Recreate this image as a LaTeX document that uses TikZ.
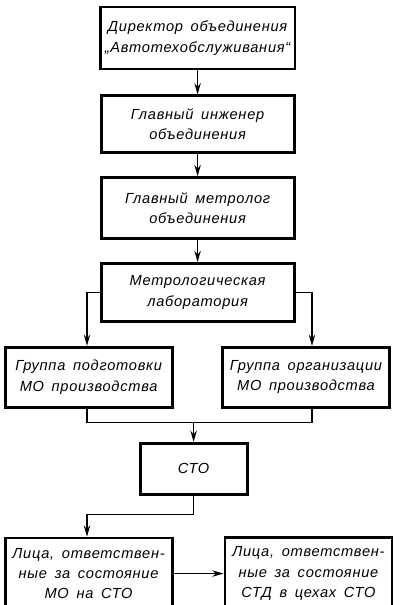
\documentclass[tikz,border=0pt]{standalone}
\usepackage{fontspec}
\newfontfamily\gostfont[LetterSpace=5,WordSpace=1.6]{Liberation Sans}
\usetikzlibrary{positioning, arrows.meta, calc}

\begin{document}
\begin{tikzpicture}[
  node distance=0.575cm and 1.25cm,
  topbox/.style={draw, line width=2pt, minimum width=4.825cm,
              minimum height=1.5cm, align=center,
              font=\gostfont\itshape\fontsize{10.4}{14.5}\selectfont},
  groupbox/.style={draw, line width=2pt, minimum width=4.175cm,
              minimum height=1.5cm, align=center,
              font=\gostfont\itshape\fontsize{10.4}{14.5}\selectfont},
  stobox/.style={draw, line width=2pt, minimum width=2.675cm,
              minimum height=1.275cm, align=center,
              font=\gostfont\itshape\fontsize{10.4}{14.5}\selectfont},
  link/.style={line width=1.1pt},
  >={Stealth[length=2.8mm,width=1.6mm]}
]
  \useasboundingbox (0,0) rectangle (10,-15.125);

  % Column: management chain
  \node[topbox, minimum height=1.55cm] (dir) at (4.94,-0.95)
    {Директор объединения\\„Автотехобслуживания“};
  \node[topbox, minimum height=1.425cm, below=0.6cm of dir] (ing)
    {Главный инженер\\объединения};
  \node[topbox, minimum height=1.525cm, below=0.55cm of ing] (met)
    {Главный метролог\\объединения};
  \node[topbox, minimum height=1.45cm, below=0.55cm of met] (lab)
    {Метрологическая\\лаборатория};
  \draw[link, ->] (dir) -- (ing);
  \draw[link, ->] (ing) -- (met);
  \draw[link, ->] (met) -- (lab);

  % Groups
  \node[groupbox, below=0.575cm of lab, xshift=-2.725cm] (gr1)
    {Группа подготовки\\МО производства};
  \node[groupbox, below=0.575cm of lab, xshift=2.71cm] (gr2)
    {Группа организации\\МО производства};
  \draw[link, ->] (lab.west) -| ([xshift=-0.04cm]gr1.north);
  \draw[link, ->] (lab.east) -| ([xshift=0.15cm]gr2.north);

  % Service station
  \node[stobox, below=2.975cm of lab, xshift=-0.1cm] (sto) {СТО};
  \draw[link] ([xshift=-0.04cm]gr1.south) -- ++(0,-0.35) coordinate (join)
    -| ([xshift=0.15cm]gr2.south);
  \draw[link, ->] (join -| sto.north) -- (sto.north);

  % Responsible persons
  \node[groupbox, minimum height=1.775cm, below=3.2cm of gr1] (lic1)
    {Лица, ответствен-\\ные за состояние\\МО на СТО};
  \node[groupbox, minimum height=1.8cm, right=1.25cm of lic1] (lic2)
    {Лица, ответствен-\\ные за состояние\\СТД в цехах СТО};
  \draw[link, ->] (sto.south) -- ++(0,-0.475) -| ([xshift=-0.04cm]lic1.north);
  \draw[link, ->] (lic1) -- (lic2);
\end{tikzpicture}
\end{document}
